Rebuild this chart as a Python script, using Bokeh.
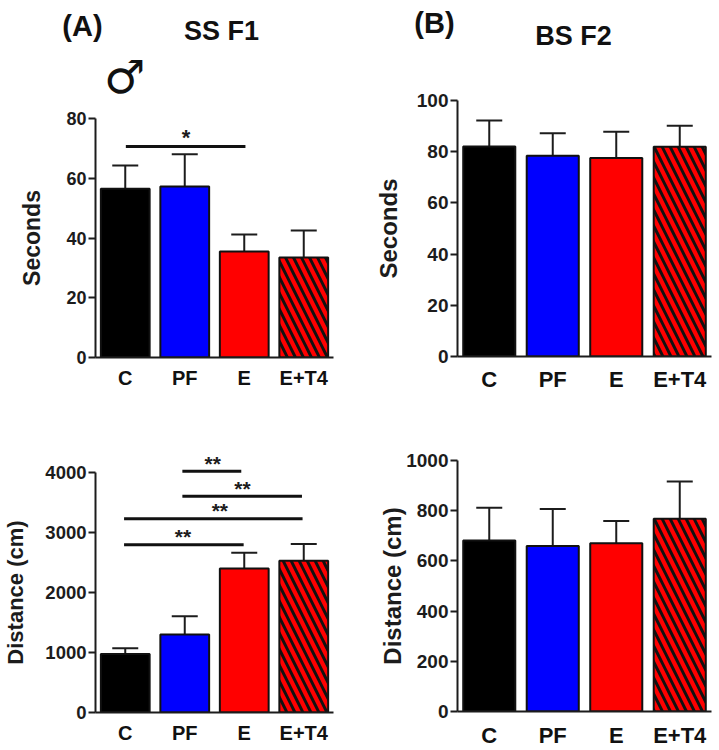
from bokeh.plotting import figure
from bokeh.models import ColumnDataSource, FactorRange, Range1d, FixedTicker, Whisker, TeeHead
from bokeh.core.properties import value
from bokeh.embed import file_html
from bokeh.resources import INLINE

categories = ["C", "PF", "E", "E+T4"]
bar_colors = ["#000000", "#0000ff", "#ff0000", "#ff0000"]
hatches = [" ", " ", " ", "\\"]

seconds_f1 = [56.5, 57.2, 35.5, 33.5]
seconds_f1_top = [64.3, 68.0, 41.2, 42.5]
distance_f1 = [975, 1300, 2400, 2530]
distance_f1_top = [1070, 1604, 2663, 2808]
seconds_f2 = [82.0, 78.4, 77.5, 81.9]
seconds_f2_top = [92.2, 87.2, 87.8, 90.1]
distance_f2 = [681, 659, 670, 768]
distance_f2_top = [812, 807, 759, 916]

seconds_f1_ticks = [0, 20, 40, 60, 80]
distance_f1_ticks = [0, 1000, 2000, 3000, 4000]
seconds_f2_ticks = [0, 20, 40, 60, 80, 100]
distance_f2_ticks = [0, 200, 400, 600, 800, 1000]

# significance brackets: start, end (category axis units), level, stars
sig_f1_sec = dict(x0=[0.51], x1=[2.52], y=[70.6], t=["*"], xt=[1.52])
sig_f1_dist = dict(x0=[1.46, 1.46, 0.48, 0.48], x1=[2.45, 3.47, 3.48, 2.49],
                   y=[4022, 3604, 3231, 2797], t=["**", "**", "**", "**"], xt=[1.97, 2.47, 2.09, 1.47])

INK = "#1c1c1c"
FONT = "Liberation Sans"
PAGE_W, PAGE_H = 719, 750


def place(p, x, y):
    p.styles = {"position": "absolute", "left": f"{x}px", "top": f"{y}px"}


def panel(values, tops, ticks, ylabel, x, y, w, h, left, right, top, bottom, tick_fs, cat_fs, lab_fs, ylab_off, cat_off):
    p = figure(width=w, height=h, x_range=FactorRange(factors=categories, range_padding=0),
               y_range=Range1d(0, ticks[-1]), output_backend="svg", toolbar_location=None,
               min_border_left=left, min_border_right=right, min_border_top=top, min_border_bottom=bottom,
               outline_line_color=None, background_fill_color="white", border_fill_color="white")
    place(p, x, y)
    p.grid.visible = False
    src = ColumnDataSource(dict(x=categories, v=values, top=tops, c=bar_colors, h=hatches))
    wh = Whisker(base="x", upper="top", lower="v", source=src, line_color=INK, line_width=2,
                 upper_head=TeeHead(size=26, line_color=INK, line_width=2), lower_head=None)
    p.add_layout(wh)
    p.vbar(x="x", top="v", width=0.82, source=src, fill_color="c", line_color="#111111", line_width=2,
           hatch_pattern="h", hatch_color="#111111", hatch_scale=16, hatch_weight=3)
    ax = p.yaxis[0]
    ax.ticker = FixedTicker(ticks=ticks)
    ax.axis_label = ylabel
    ax.axis_label_text_font = FONT
    ax.axis_label_text_font_style = "bold"
    ax.axis_label_text_font_size = f"{lab_fs}px"
    ax.axis_label_text_color = INK
    ax.axis_label_standoff = ylab_off
    ax.major_label_text_font = FONT
    ax.major_label_text_font_style = "bold"
    ax.major_label_text_font_size = f"{tick_fs}px"
    ax.major_label_text_color = INK
    ax.major_label_standoff = 2
    ax.axis_line_width = 2
    ax.axis_line_color = INK
    ax.major_tick_line_width = 2
    ax.major_tick_line_color = INK
    ax.major_tick_in = 0
    ax.major_tick_out = 7
    ax.minor_tick_line_color = None
    xa = p.xaxis[0]
    xa.major_label_text_font = FONT
    xa.major_label_text_font_style = "bold"
    xa.major_label_text_font_size = f"{cat_fs}px"
    xa.major_label_text_color = "#111111"
    xa.major_label_standoff = cat_off
    xa.axis_line_width = 2
    xa.axis_line_color = INK
    xa.major_tick_line_color = None
    xa.minor_tick_line_color = None
    xa.group_text_color = None
    return p


a = panel(seconds_f1, seconds_f1_top, seconds_f1_ticks, "Seconds", 0, 0, 360, 420, 95, 27, 118, 63, 18, 20, 23, 18, 3)
b = panel(seconds_f2, seconds_f2_top, seconds_f2_ticks, "Seconds", 360, 0, 359, 420, 97, 8, 100, 64, 19, 22, 24, 12, 4)
c = panel(distance_f1, distance_f1_top, distance_f1_ticks, "Distance (cm)", 0, 420, 360, 330, 95, 27, 52, 38, 18.5, 20, 22, 14, 3)
d = panel(distance_f2, distance_f2_top, distance_f2_ticks, "Distance (cm)", 360, 420, 359, 330, 97, 8, 40, 37, 19, 22, 24, -3, 5)

# transparent page-wide layer for what lies outside the panels' plot areas
top = figure(width=PAGE_W, height=PAGE_H, x_range=Range1d(0, PAGE_W), y_range=Range1d(PAGE_H, 0),
             output_backend="svg", toolbar_location=None, x_axis_location=None, y_axis_location=None,
             min_border=0, outline_line_color=None, background_fill_alpha=0, border_fill_alpha=0)
place(top, 0, 0)
top.grid.visible = False


def scale_for(name, left, unit, y0, per_px):
    top.extra_x_ranges[name] = Range1d(-left / unit, (PAGE_W - left) / unit)
    top.extra_y_ranges[name] = Range1d((y0 - PAGE_H) * per_px, y0 * per_px)


scale_for("a", 95, 59.5, 357, 80 / 239)
scale_for("c", 95, 59.5, 712, 4000 / 240)


def brackets(sig, name, star_fs, dy):
    s = ColumnDataSource(dict(x0=sig["x0"], x1=sig["x1"], y=sig["y"], t=sig["t"], xt=sig["xt"]))
    top.segment(x0="x0", x1="x1", y0="y", y1="y", source=s, line_color="#111111", line_width=3,
                x_range_name=name, y_range_name=name)
    top.text(x="xt", y="y", text="t", source=s, text_align="center", text_baseline="middle",
             text_font=value(FONT), text_font_style="bold", text_font_size=f"{star_fs}px",
             text_color=INK, y_offset=-dy, x_range_name=name, y_range_name=name)


def note(px, py, txt, fs, font=FONT):
    top.text(x=[px], y=[py], text=[txt], text_align="center", text_baseline="middle",
             text_font=value(font), text_font_style="bold", text_font_size=f"{fs}px", text_color="#111111")


brackets(sig_f1_sec, "a", 22, 9)
brackets(sig_f1_dist, "c", 21, 8)

note(82, 25, "(A)", 29)
note(221, 30, "SS F1", 27)
note(124, 76, "♂", 46, "DejaVu Sans")
note(434, 22, "(B)", 29)
note(573, 35, "BS F2", 27)

open("out.html", "w").write(file_html([a, b, c, d, top], INLINE))
